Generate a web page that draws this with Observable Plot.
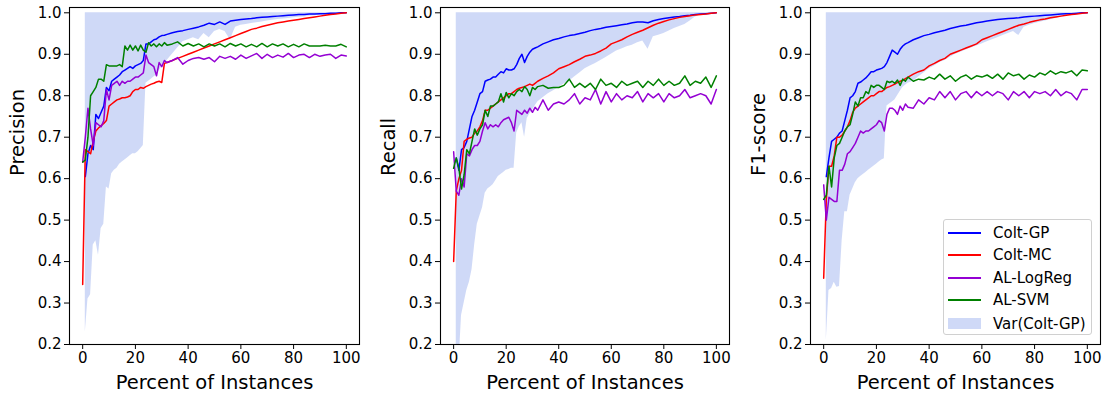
<!DOCTYPE html>
<html>
<head>
<meta charset="utf-8">
<script src="https://cdn.jsdelivr.net/npm/d3@7"></script>
<script src="https://cdn.jsdelivr.net/npm/@observablehq/plot@0.6"></script>
<style>
  body { margin: 0; background: #fff; }
  #wrap { position: relative; width: 1107px; height: 394px; font-family: "DejaVu Sans", sans-serif; overflow: hidden; }
  .panel { position: absolute; top: 0; }
  .legend { position: absolute; left: 943px; top: 219px; width: 149px; height: 116px; border: 1px solid #d0d0d0; border-radius: 3px; background: rgba(255,255,255,0.85); box-sizing: border-box; }
  .row { position: absolute; left: 0; height: 20px; line-height: 20px; font-size: 15px; color: #000; white-space: nowrap; }
  .row .sw { position: absolute; left: 4px; width: 33px; }
  .row .tx { position: absolute; left: 49px; top: 0; }
</style>
</head>
<body>
<div id="wrap"></div>
<script>
// ---------- data ----------
const percent = [0,1,2,3,4,5,6,7,8,9,10,11,12,13,14,15,16,17,18,19,20,21,22,23,24,25,26,27,28,29,30,31,32,
  34,36,38,40,42,44,46,48,50,52,54,56,58,60,62,64,66,68,70,72,74,76,78,80,82,84,86,88,90,92,94,96,98,100];

const seriesNames = ["Colt-GP", "Colt-MC", "AL-LogReg", "AL-SVM"];
const seriesColors = ["#0000ff", "#ff0000", "#9400d3", "#008000"];
const bandName = "Var(Colt-GP)";
const bandTop = 1.0;

// Precision
const precGP = [null,0.605,0.66,0.68,0.67,0.755,0.745,0.76,0.775,0.82,0.812,0.835,0.84,0.845,0.85,0.858,0.862,0.866,0.87,0.866,0.872,0.875,0.878,0.885,0.925,0.925,0.93,0.935,0.937,0.942,0.945,0.946,0.948,
  0.952,0.955,0.957,0.96,0.963,0.966,0.97,0.975,0.972,0.978,0.972,0.98,0.982,0.984,0.985,0.986,0.988,0.989,0.99,0.991,0.992,0.993,0.994,0.995,0.996,0.996,0.997,0.997,0.998,0.998,0.999,0.999,1.0,1.0];
const precMC = [0.345,0.67,0.665,0.66,0.69,0.715,0.722,0.728,0.733,0.74,0.775,0.78,0.785,0.79,0.792,0.795,0.795,0.797,0.80,0.81,0.815,0.815,0.82,0.818,0.822,0.825,0.828,0.83,0.833,0.835,0.832,0.878,0.88,
  0.885,0.89,0.895,0.90,0.905,0.91,0.915,0.92,0.925,0.93,0.935,0.94,0.945,0.95,0.955,0.96,0.963,0.967,0.97,0.973,0.976,0.978,0.98,0.982,0.984,0.986,0.988,0.99,0.992,0.994,0.996,0.997,0.999,1.0];
const precLR = [0.64,0.70,0.77,0.72,0.68,0.735,0.73,0.725,0.74,0.815,0.79,0.825,0.83,0.835,0.825,0.835,0.83,0.835,0.835,0.84,0.845,0.845,0.85,0.855,0.898,0.88,0.875,0.87,0.848,0.88,0.87,0.885,0.88,
  0.885,0.892,0.876,0.885,0.89,0.892,0.888,0.892,0.882,0.895,0.89,0.895,0.888,0.898,0.89,0.896,0.902,0.89,0.9,0.892,0.898,0.893,0.902,0.892,0.898,0.9,0.892,0.9,0.895,0.898,0.9,0.89,0.898,0.896];
const precSVM = [0.64,0.645,0.70,0.80,0.81,0.82,0.84,0.84,0.835,0.875,0.872,0.872,0.872,0.872,0.875,0.87,0.92,0.91,0.922,0.91,0.92,0.908,0.922,0.91,0.905,0.928,0.92,0.925,0.918,0.925,0.92,0.928,0.922,
  0.925,0.93,0.92,0.926,0.92,0.925,0.918,0.925,0.92,0.925,0.918,0.926,0.92,0.925,0.918,0.924,0.918,0.926,0.918,0.925,0.92,0.925,0.918,0.924,0.918,0.925,0.92,0.92,0.92,0.922,0.92,0.92,0.924,0.918];
const precVarLow = [null,0.23,0.31,0.32,0.44,0.45,0.415,0.48,0.49,0.58,0.575,0.612,0.62,0.625,0.635,0.64,0.645,0.65,0.655,0.66,0.66,0.665,0.672,0.68,0.83,0.835,0.84,0.845,0.85,0.86,0.87,0.878,0.885,
  0.90,0.915,0.93,0.935,0.94,0.935,0.95,0.94,0.955,0.96,0.955,0.935,0.965,0.97,0.972,0.974,0.976,0.978,0.98,0.982,0.984,0.985,0.986,0.988,0.989,0.99,0.992,0.993,0.995,0.996,0.997,0.998,0.999,1.0];

// Recall
const recGP = [null,0.65,0.62,0.67,0.675,0.69,0.72,0.75,0.765,0.785,0.805,0.81,0.835,0.838,0.84,0.845,0.845,0.852,0.858,0.855,0.865,0.862,0.862,0.865,0.875,0.89,0.90,0.88,0.895,0.905,0.912,0.915,0.918,
  0.925,0.93,0.935,0.938,0.942,0.945,0.947,0.95,0.953,0.957,0.96,0.962,0.965,0.967,0.969,0.971,0.973,0.976,0.978,0.978,0.976,0.981,0.984,0.986,0.988,0.99,0.991,0.993,0.994,0.996,0.997,0.998,0.999,1.0];
const recMC = [0.40,0.57,0.60,0.62,0.69,0.695,0.698,0.70,0.71,0.715,0.725,0.74,0.765,0.765,0.77,0.775,0.78,0.785,0.79,0.795,0.80,0.805,0.805,0.81,0.815,0.818,0.82,0.822,0.825,0.828,0.825,0.83,0.835,
  0.842,0.848,0.855,0.865,0.87,0.875,0.882,0.888,0.895,0.898,0.902,0.908,0.915,0.925,0.93,0.935,0.942,0.948,0.953,0.958,0.964,0.97,0.975,0.979,0.983,0.986,0.989,0.991,0.993,0.995,0.996,0.997,0.999,1.0];
const recLR = [0.665,0.57,0.56,0.60,0.58,0.66,0.655,0.67,0.68,0.68,0.69,0.715,0.735,0.72,0.73,0.725,0.73,0.725,0.735,0.742,0.745,0.748,0.735,0.715,0.765,0.76,0.755,0.765,0.758,0.77,0.76,0.772,0.765,
  0.79,0.765,0.78,0.785,0.78,0.79,0.805,0.78,0.795,0.79,0.815,0.78,0.81,0.785,0.805,0.79,0.8,0.795,0.81,0.785,0.805,0.795,0.805,0.785,0.805,0.795,0.8,0.815,0.795,0.8,0.805,0.8,0.78,0.815];
const recSVM = [0.625,0.65,0.625,0.575,0.61,0.67,0.66,0.69,0.72,0.705,0.72,0.73,0.765,0.75,0.775,0.775,0.78,0.785,0.805,0.785,0.808,0.795,0.805,0.80,0.81,0.815,0.81,0.822,0.815,0.80,0.82,0.815,0.822,
  0.825,0.818,0.82,0.82,0.825,0.84,0.82,0.83,0.82,0.83,0.815,0.84,0.825,0.83,0.82,0.835,0.825,0.83,0.835,0.82,0.835,0.825,0.84,0.825,0.835,0.825,0.83,0.848,0.825,0.835,0.83,0.845,0.82,0.848];
const recVarLow = [null,0.15,0.15,0.27,0.30,0.33,0.35,0.38,0.44,0.49,0.51,0.53,0.565,0.575,0.58,0.585,0.595,0.605,0.61,0.615,0.62,0.622,0.625,0.625,0.71,0.725,0.735,0.70,0.745,0.756,0.765,0.775,0.785,
  0.795,0.805,0.812,0.82,0.828,0.835,0.845,0.855,0.865,0.872,0.878,0.885,0.892,0.90,0.908,0.913,0.918,0.922,0.928,0.932,0.912,0.942,0.946,0.95,0.956,0.962,0.967,0.972,0.98,0.99,0.995,0.998,0.999,1.0];

// F1-score
const f1GP = [null,0.605,0.65,0.69,0.695,0.70,0.71,0.715,0.74,0.765,0.795,0.80,0.81,0.83,0.833,0.838,0.843,0.85,0.858,0.858,0.862,0.864,0.866,0.87,0.88,0.895,0.91,0.905,0.90,0.912,0.92,0.925,0.928,
  0.935,0.94,0.945,0.948,0.952,0.955,0.958,0.962,0.965,0.968,0.97,0.973,0.976,0.978,0.98,0.982,0.984,0.985,0.986,0.987,0.988,0.99,0.991,0.992,0.993,0.994,0.995,0.996,0.997,0.998,0.998,0.999,1.0,1.0];
const f1MC = [0.36,0.55,0.63,0.63,0.655,0.70,0.70,0.705,0.715,0.725,0.74,0.76,0.77,0.775,0.78,0.785,0.79,0.795,0.80,0.80,0.805,0.81,0.81,0.815,0.82,0.822,0.825,0.828,0.832,0.835,0.837,0.841,0.845,
  0.852,0.858,0.862,0.872,0.878,0.885,0.89,0.90,0.905,0.91,0.915,0.92,0.925,0.935,0.94,0.945,0.95,0.955,0.96,0.965,0.97,0.973,0.977,0.98,0.983,0.985,0.988,0.99,0.992,0.994,0.996,0.997,0.999,1.0];
const f1LR = [0.585,0.50,0.555,0.55,0.545,0.545,0.62,0.62,0.635,0.66,0.665,0.675,0.685,0.70,0.715,0.71,0.715,0.715,0.72,0.725,0.73,0.74,0.735,0.715,0.755,0.77,0.77,0.765,0.755,0.775,0.765,0.78,0.772,
  0.77,0.79,0.78,0.795,0.79,0.81,0.795,0.81,0.79,0.805,0.81,0.795,0.81,0.80,0.81,0.80,0.81,0.805,0.79,0.81,0.80,0.81,0.795,0.81,0.805,0.81,0.80,0.815,0.80,0.81,0.805,0.79,0.815,0.815];
const f1SVM = [0.55,0.56,0.63,0.58,0.65,0.68,0.685,0.70,0.715,0.725,0.73,0.755,0.785,0.775,0.795,0.795,0.81,0.805,0.825,0.82,0.825,0.825,0.82,0.815,0.835,0.832,0.835,0.83,0.838,0.825,0.84,0.835,0.845,
  0.835,0.84,0.838,0.845,0.84,0.852,0.84,0.848,0.835,0.845,0.85,0.84,0.848,0.845,0.85,0.842,0.852,0.84,0.855,0.848,0.852,0.84,0.85,0.845,0.855,0.85,0.86,0.852,0.858,0.855,0.86,0.848,0.862,0.86];
const f1VarLow = [null,0.21,0.33,0.335,0.35,0.338,0.34,0.45,0.52,0.52,0.56,0.575,0.59,0.60,0.605,0.61,0.615,0.62,0.625,0.63,0.635,0.64,0.645,0.648,0.775,0.78,0.785,0.79,0.80,0.81,0.82,0.825,0.83,
  0.835,0.845,0.855,0.865,0.872,0.88,0.885,0.893,0.90,0.905,0.91,0.915,0.92,0.925,0.93,0.935,0.94,0.945,0.95,0.955,0.945,0.965,0.97,0.974,0.977,0.98,0.983,0.986,0.99,0.995,0.998,1.0,1.0,1.0];

const xTicks = [0, 20, 40, 60, 80, 100];
const yTicks = [0.2, 0.3, 0.4, 0.5, 0.6, 0.7, 0.8, 0.9, 1.0];
const xTitle = "Percent of Instances";

const panels = [
  {label: "Precision", series: [precGP, precMC, precLR, precSVM], low: precVarLow, left: 0,   width: 369, ml: 69, mr: 10},
  {label: "Recall",    series: [recGP, recMC, recLR, recSVM],     low: recVarLow,  left: 370, width: 369, ml: 70, mr: 10},
  {label: "F1-score",  series: [f1GP, f1MC, f1LR, f1SVM],         low: f1VarLow,   left: 739, width: 368, ml: 71, mr: 7}
];

// ---------- drawing ----------
const wrap = document.getElementById("wrap");
const idx = percent.map((_, i) => i);

for (const p of panels) {
  const lineMarks = p.series.map((vals, k) =>
    Plot.line(idx, {x: i => percent[i], y: i => vals[i], stroke: seriesColors[k], strokeWidth: 1.5, clip: true})
  );
  const chart = Plot.plot({
    width: p.width,
    height: 394,
    marginTop: 7,
    marginBottom: 50,
    marginLeft: p.ml,
    marginRight: p.mr,
    x: {domain: [-5, 105]},
    y: {domain: [0.2, 1.0128]},
    style: {fontFamily: "'DejaVu Sans', sans-serif", fontSize: "15px", color: "#000", background: "transparent", overflow: "visible"},
    marks: [
      Plot.areaY(idx, {x: i => percent[i], y1: i => p.low[i], y2: bandTop, fill: "royalblue", fillOpacity: 0.25, clip: true}),
      ...lineMarks,
      Plot.frame({stroke: "#000", strokeWidth: 1.1}),
      Plot.axisX({ticks: xTicks, tickSize: 5, tickPadding: 3, fontSize: 15, label: null}),
      Plot.axisY({ticks: yTicks, tickFormat: d3.format(".1f"), tickSize: 5, tickPadding: 3, fontSize: 15, label: null}),
      Plot.text([p.label], {frameAnchor: "left", dx: -52, rotate: -90, fontSize: 19.5, fill: "#000"}),
      Plot.text([xTitle], {frameAnchor: "bottom", dy: 44, fontSize: 19.5, fill: "#000"})
    ]
  });
  chart.classList.add("panel");
  chart.style.left = p.left + "px";
  wrap.appendChild(chart);
}

// legend (inside the F1-score panel)
const legend = document.createElement("div");
legend.className = "legend";
const rowCenters = [13, 35, 58, 80, 104];
seriesNames.forEach((name, k) => {
  const r = document.createElement("div");
  r.className = "row";
  r.style.top = (rowCenters[k] - 10) + "px";
  r.innerHTML = `<span class="sw" style="top:9px;height:1.5px;background:${seriesColors[k]}"></span><span class="tx">${name}</span>`;
  legend.appendChild(r);
});
const rb = document.createElement("div");
rb.className = "row";
rb.style.top = (rowCenters[4] - 10) + "px";
rb.innerHTML = `<span class="sw" style="top:4px;height:11px;background:rgba(65,105,225,0.25)"></span><span class="tx">${bandName}</span>`;
legend.appendChild(rb);
wrap.appendChild(legend);
</script>
</body>
</html>
